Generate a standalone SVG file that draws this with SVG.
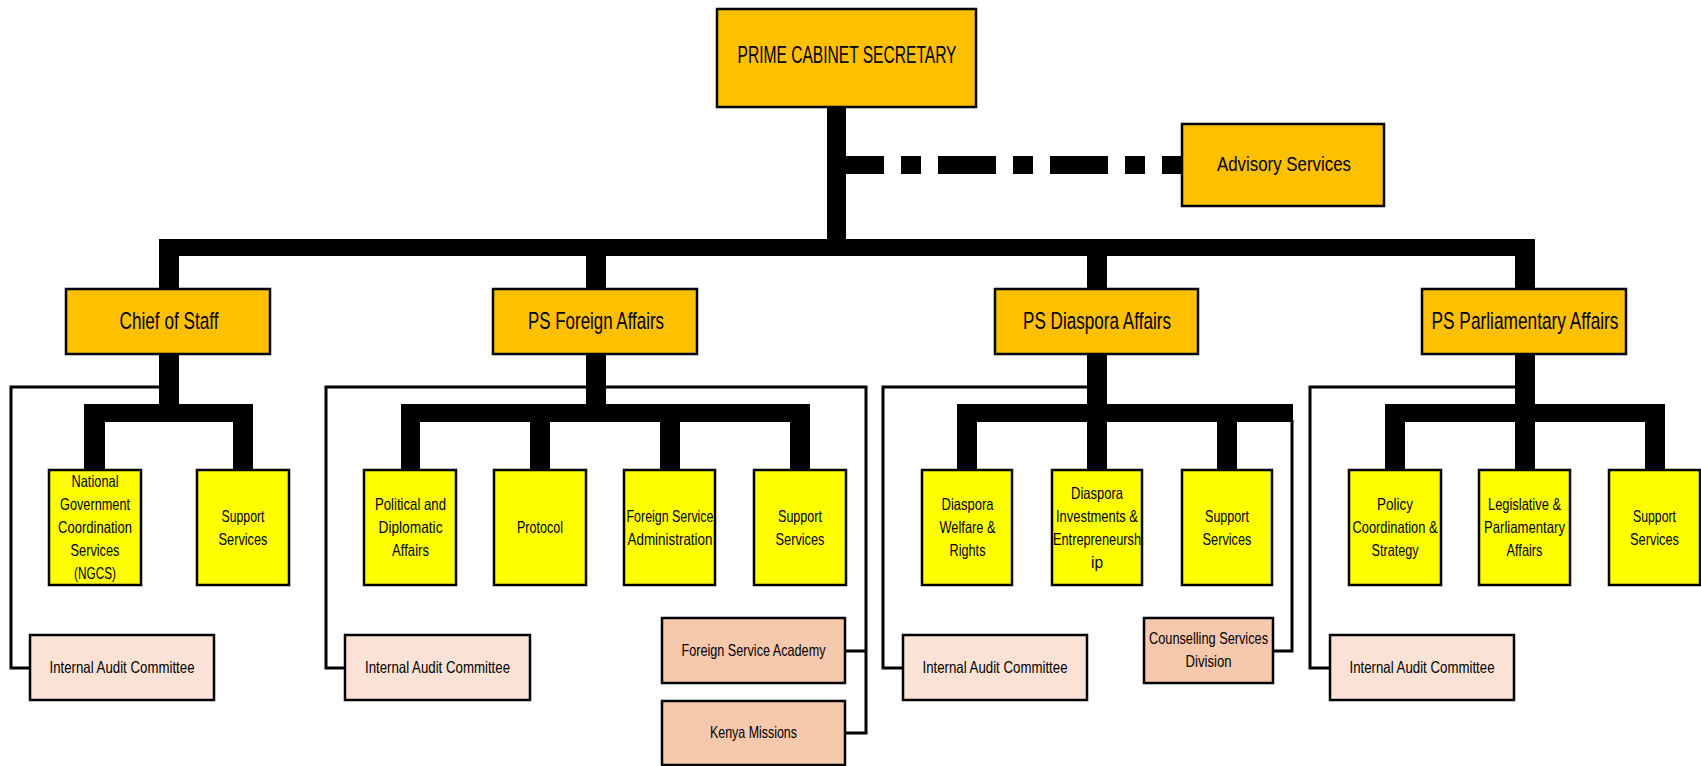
<svg xmlns="http://www.w3.org/2000/svg" width="1701" height="766" viewBox="0 0 1701 766">
<style>
rect.box{stroke:#000;stroke-width:2.5}
.l1{fill:#FFC000}
.l3{fill:#FFFF00}
.iac{fill:#FBE2D6}
.sub{fill:#F6C8AC}
.bar{fill:#000}
.thin{fill:none;stroke:#000;stroke-width:3}
text{font-family:"Liberation Sans Narrow","Liberation Sans",Arial,sans-serif;fill:#000;text-anchor:middle}
.t1{font-size:23px}
.t2{font-size:24.5px}
.t3{font-size:16.5px}
.tp{font-size:16.5px}
.ta{font-size:20px}
</style>
<rect width="1701" height="766" fill="#fff"/>
<g id="connectors">
  <rect class="bar" x="827" y="107" width="19" height="133"/>
  <line x1="846" y1="165" x2="1181" y2="165" stroke="#000" stroke-width="18" stroke-dasharray="58 17 20 17" stroke-dashoffset="20"/>
  <rect class="bar" x="159" y="239" width="1376" height="17"/>
  <rect class="bar" x="159" y="256" width="20" height="33"/>
  <rect class="bar" x="586" y="256" width="20" height="33"/>
  <rect class="bar" x="1087" y="256" width="20" height="33"/>
  <rect class="bar" x="1515" y="256" width="20" height="33"/>
  <polyline class="thin" points="160,387 11,387 11,668 30,668"/>
  <rect class="bar" x="159" y="354" width="20" height="51"/>
  <rect class="bar" x="84" y="404" width="169" height="18"/>
  <rect class="bar" x="84" y="422" width="21" height="48"/>
  <rect class="bar" x="233" y="422" width="20" height="48"/>
  <polyline class="thin" points="587,387 326,387 326,668 345,668"/>
  <polyline class="thin" points="605,387 866,387 866,733 845,733"/>
  <line class="thin" x1="866" y1="651" x2="845" y2="651"/>
  <rect class="bar" x="586" y="354" width="20" height="51"/>
  <rect class="bar" x="401" y="404" width="409" height="18"/>
  <rect class="bar" x="401" y="422" width="19" height="48"/>
  <rect class="bar" x="530" y="422" width="20" height="48"/>
  <rect class="bar" x="660" y="422" width="20" height="48"/>
  <rect class="bar" x="790" y="422" width="20" height="48"/>
  <polyline class="thin" points="1088,387 883,387 883,668 903,668"/>
  <polyline class="thin" points="1292,420 1292,651 1273,651"/>
  <rect class="bar" x="1087" y="354" width="20" height="51"/>
  <rect class="bar" x="957" y="404" width="336" height="18"/>
  <rect class="bar" x="957" y="422" width="20" height="48"/>
  <rect class="bar" x="1087" y="422" width="20" height="48"/>
  <rect class="bar" x="1217" y="422" width="20" height="48"/>
  <polyline class="thin" points="1516,387 1310,387 1310,668 1330,668"/>
  <rect class="bar" x="1515" y="354" width="20" height="51"/>
  <rect class="bar" x="1385" y="404" width="280" height="18"/>
  <rect class="bar" x="1385" y="422" width="20" height="48"/>
  <rect class="bar" x="1515" y="422" width="20" height="48"/>
  <rect class="bar" x="1645" y="422" width="20" height="48"/>
</g>

<g id="pcs"><rect class="box l1" x="717" y="9" width="259" height="98"/><text class="t1" x="847" y="63" textLength="219" lengthAdjust="spacingAndGlyphs">PRIME CABINET SECRETARY</text></g>
<g id="advisory"><rect class="box l1" x="1182" y="124" width="202" height="82"/><text class="ta" x="1284" y="171" textLength="134" lengthAdjust="spacingAndGlyphs">Advisory Services</text></g>

<g id="chief"><rect class="box l1" x="66" y="289" width="204" height="65"/><text class="t2" x="169" y="328.5" textLength="99" lengthAdjust="spacingAndGlyphs">Chief of Staff</text></g>
<g id="ps-foreign"><rect class="box l1" x="493" y="289" width="204" height="65"/><text class="t2" x="596" y="328.5" textLength="136" lengthAdjust="spacingAndGlyphs">PS Foreign Affairs</text></g>
<g id="ps-diaspora"><rect class="box l1" x="995" y="289" width="203" height="65"/><text class="t2" x="1097" y="328.5" textLength="148" lengthAdjust="spacingAndGlyphs">PS Diaspora Affairs</text></g>
<g id="ps-parliamentary"><rect class="box l1" x="1422" y="289" width="204" height="65"/><text class="t2" x="1525" y="328.5" textLength="187" lengthAdjust="spacingAndGlyphs">PS Parliamentary Affairs</text></g>

<g id="ngcs"><rect class="box l3" x="49" y="470" width="92" height="115"/>
<text class="t3" x="95" y="487" textLength="47" lengthAdjust="spacingAndGlyphs">National</text>
<text class="t3" x="95" y="510" textLength="70" lengthAdjust="spacingAndGlyphs">Government</text>
<text class="t3" x="95" y="533" textLength="74" lengthAdjust="spacingAndGlyphs">Coordination</text>
<text class="t3" x="95" y="556" textLength="49" lengthAdjust="spacingAndGlyphs">Services</text>
<text class="t3" x="95" y="579" textLength="42" lengthAdjust="spacingAndGlyphs">(NGCS)</text></g>
<g id="support-chief"><rect class="box l3" x="197" y="470" width="92" height="115"/>
<text class="t3" x="243" y="521.5" textLength="43" lengthAdjust="spacingAndGlyphs">Support</text>
<text class="t3" x="243" y="544.5" textLength="49" lengthAdjust="spacingAndGlyphs">Services</text></g>

<g id="political"><rect class="box l3" x="364" y="470" width="92" height="115"/>
<text class="t3" x="410.5" y="510" textLength="71" lengthAdjust="spacingAndGlyphs">Political and</text>
<text class="t3" x="410.5" y="533" textLength="64" lengthAdjust="spacingAndGlyphs">Diplomatic</text>
<text class="t3" x="410.5" y="556" textLength="37" lengthAdjust="spacingAndGlyphs">Affairs</text></g>
<g id="protocol"><rect class="box l3" x="494" y="470" width="92" height="115"/>
<text class="t3" x="540" y="533" textLength="46" lengthAdjust="spacingAndGlyphs">Protocol</text></g>
<g id="fs-admin"><rect class="box l3" x="624" y="470" width="91" height="115"/>
<text class="t3" x="670" y="521.5" textLength="87" lengthAdjust="spacingAndGlyphs">Foreign Service</text>
<text class="t3" x="670" y="544.5" textLength="85" lengthAdjust="spacingAndGlyphs">Administration</text></g>
<g id="support-foreign"><rect class="box l3" x="754" y="470" width="92" height="115"/>
<text class="t3" x="800" y="521.5" textLength="44" lengthAdjust="spacingAndGlyphs">Support</text>
<text class="t3" x="800" y="544.5" textLength="49" lengthAdjust="spacingAndGlyphs">Services</text></g>

<g id="welfare"><rect class="box l3" x="922" y="470" width="90" height="115"/>
<text class="t3" x="967.5" y="510" textLength="52" lengthAdjust="spacingAndGlyphs">Diaspora</text>
<text class="t3" x="967.5" y="533" textLength="56" lengthAdjust="spacingAndGlyphs">Welfare &amp;</text>
<text class="t3" x="967.5" y="556" textLength="36" lengthAdjust="spacingAndGlyphs">Rights</text></g>
<g id="investments"><rect class="box l3" x="1052" y="470" width="90" height="115"/>
<text class="t3" x="1097" y="498.5" textLength="52" lengthAdjust="spacingAndGlyphs">Diaspora</text>
<text class="t3" x="1097" y="521.5" textLength="82" lengthAdjust="spacingAndGlyphs">Investments &amp;</text>
<text class="t3" x="1097" y="544.5" textLength="88" lengthAdjust="spacingAndGlyphs">Entrepreneursh</text>
<text class="t3" x="1097" y="567.5" textLength="12" lengthAdjust="spacingAndGlyphs">ip</text></g>
<g id="support-diaspora"><rect class="box l3" x="1182" y="470" width="90" height="115"/>
<text class="t3" x="1227" y="521.5" textLength="44" lengthAdjust="spacingAndGlyphs">Support</text>
<text class="t3" x="1227" y="544.5" textLength="49" lengthAdjust="spacingAndGlyphs">Services</text></g>

<g id="policy"><rect class="box l3" x="1349" y="470" width="92" height="115"/>
<text class="t3" x="1395" y="510" textLength="36" lengthAdjust="spacingAndGlyphs">Policy</text>
<text class="t3" x="1395" y="533" textLength="85" lengthAdjust="spacingAndGlyphs">Coordination &amp;</text>
<text class="t3" x="1395" y="556" textLength="47" lengthAdjust="spacingAndGlyphs">Strategy</text></g>
<g id="legislative"><rect class="box l3" x="1479" y="470" width="91" height="115"/>
<text class="t3" x="1524.5" y="510" textLength="73" lengthAdjust="spacingAndGlyphs">Legislative &amp;</text>
<text class="t3" x="1524.5" y="533" textLength="81" lengthAdjust="spacingAndGlyphs">Parliamentary</text>
<text class="t3" x="1524.5" y="556" textLength="36" lengthAdjust="spacingAndGlyphs">Affairs</text></g>
<g id="support-parliamentary"><rect class="box l3" x="1609" y="470" width="91" height="115"/>
<text class="t3" x="1654.5" y="521.5" textLength="43" lengthAdjust="spacingAndGlyphs">Support</text>
<text class="t3" x="1654.5" y="544.5" textLength="49" lengthAdjust="spacingAndGlyphs">Services</text></g>

<g id="iac-chief"><rect class="box iac" x="30" y="635" width="184" height="65"/><text class="tp" x="122" y="673" textLength="145" lengthAdjust="spacingAndGlyphs">Internal Audit Committee</text></g>
<g id="iac-foreign"><rect class="box iac" x="345" y="635" width="185" height="65"/><text class="tp" x="437.5" y="673" textLength="145" lengthAdjust="spacingAndGlyphs">Internal Audit Committee</text></g>
<g id="iac-diaspora"><rect class="box iac" x="903" y="635" width="184" height="65"/><text class="tp" x="995" y="673" textLength="145" lengthAdjust="spacingAndGlyphs">Internal Audit Committee</text></g>
<g id="iac-parliamentary"><rect class="box iac" x="1330" y="635" width="184" height="65"/><text class="tp" x="1422" y="673" textLength="145" lengthAdjust="spacingAndGlyphs">Internal Audit Committee</text></g>

<g id="fs-academy"><rect class="box sub" x="662" y="618" width="183" height="65"/><text class="tp" x="753.5" y="656" textLength="144" lengthAdjust="spacingAndGlyphs">Foreign Service Academy</text></g>
<g id="kenya-missions"><rect class="box sub" x="662" y="701" width="183" height="64"/><text class="tp" x="753.5" y="738" textLength="87" lengthAdjust="spacingAndGlyphs">Kenya Missions</text></g>
<g id="counselling"><rect class="box sub" x="1144" y="618" width="129" height="65"/>
<text class="tp" x="1208.5" y="644" textLength="119" lengthAdjust="spacingAndGlyphs">Counselling Services</text>
<text class="tp" x="1208.5" y="667" textLength="46" lengthAdjust="spacingAndGlyphs">Division</text></g>
</svg>
